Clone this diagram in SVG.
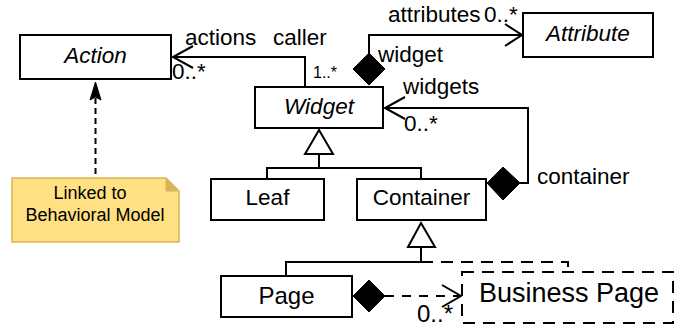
<svg xmlns="http://www.w3.org/2000/svg" width="683" height="328" viewBox="0 0 683 328">
<style>
text{font-family:"Liberation Sans",Arial,sans-serif;fill:#000}
.cls{fill:#fff;stroke:#000;stroke-width:2}
.nm{font-size:22.5px;text-anchor:middle}
.it{font-style:italic}
.lb{font-size:22.5px}
.ln{fill:none;stroke:#000;stroke-width:2}
.dia{fill:#000;stroke:#000;stroke-width:1}
</style>
<rect width="683" height="328" fill="#fff"/>
<g id="connectors">
  <polyline class="ln" points="305,87 305,57 173,57"/>
  <polyline class="ln" points="193,46 173,57 193,68"/>
  <polyline class="ln" points="369,53 369,35 522,35"/>
  <polyline class="ln" points="505,24 522,35 505,46"/>
  <polygon class="dia" points="369,53 385,69 369,85 353,69"/>
  <polyline class="ln" points="520,183 528,183 528,108 385,108"/>
  <polyline class="ln" points="405,97 385,108 405,119"/>
  <polygon class="dia" points="503,167 520,183 503,200 487,183"/>
  <polyline class="ln" points="267,179 267,168 421,168 421,179"/>
  <line class="ln" x1="319" y1="154" x2="319" y2="168"/>
  <polygon class="cls" points="319,130 333,154 305,154"/>
  <polyline class="ln" points="286,276 286,262 421,262"/>
  <line class="ln" x1="421" y1="247" x2="421" y2="262"/>
  <polygon class="cls" points="421,223 435,247 408,247"/>
  <polyline class="ln" points="421,262 568,262 568,272" stroke-dasharray="12 8"/>
  <line class="ln" x1="385" y1="296" x2="460" y2="296" stroke-dasharray="9 8"/>
  <polyline class="ln" points="442,285 461,296 442,307"/>
  <polygon class="dia" points="369,280 385,296 369,312 353,296"/>
  <line class="ln" x1="95.5" y1="98" x2="95.5" y2="178" stroke-dasharray="6 4"/>
  <polygon points="95.5,82 101,100 95.5,97 90,100" fill="#000" stroke="#000" stroke-width="1"/>
  <text class="lb" x="185" y="45">actions</text>
  <text class="lb" x="273" y="45">caller</text>
  <text class="lb" x="172" y="79">0..*</text>
  <text x="313" y="78" style="font-size:16px">1..*</text>
  <text class="lb" x="388" y="22">attributes</text>
  <text class="lb" x="484" y="22">0..*</text>
  <text class="lb" x="378" y="62">widget</text>
  <text class="lb" x="403" y="94">widgets</text>
  <text class="lb" x="404" y="131">0..*</text>
  <text class="lb" x="537" y="184">container</text>
  <text x="417" y="322" style="font-size:24px">0..*</text>
</g>
<g id="action">
  <rect class="cls" x="20" y="35" width="151" height="44"/>
  <text class="nm it" x="95.5" y="63">Action</text>
</g>
<g id="attribute">
  <rect class="cls" x="523" y="13" width="130" height="44"/>
  <text class="nm it" x="588" y="41">Attribute</text>
</g>
<g id="widget">
  <rect class="cls" x="255" y="87" width="128" height="41"/>
  <text class="nm it" x="319" y="114">Widget</text>
</g>
<g id="leaf">
  <rect class="cls" x="211" y="179" width="113" height="41"/>
  <text class="nm" x="267.5" y="205">Leaf</text>
</g>
<g id="container">
  <rect class="cls" x="357" y="179" width="129" height="41"/>
  <text class="nm" x="421.5" y="205">Container</text>
</g>
<g id="page">
  <rect class="cls" x="221" y="276" width="131" height="41"/>
  <text class="nm" x="286.5" y="304" style="font-size:24px">Page</text>
</g>
<g id="business-page">
  <rect class="cls" x="462" y="272" width="211" height="51" stroke-dasharray="12 8"/>
  <text class="nm" x="569" y="302" style="font-size:27px">Business Page</text>
</g>
<g id="note">
  <path d="M12,178 H166 L179,191 V242 H12 Z" fill="#FFE082" stroke="#D6B656" stroke-width="1.5"/>
  <path d="M166,178 V191 H179 Z" fill="#D6B656" stroke="#D6B656" stroke-width="1"/>
  <text x="90" y="199" style="font-size:18px;text-anchor:middle">Linked to</text>
  <text x="95" y="221" style="font-size:18px;text-anchor:middle">Behavioral Model</text>
</g>
</svg>
